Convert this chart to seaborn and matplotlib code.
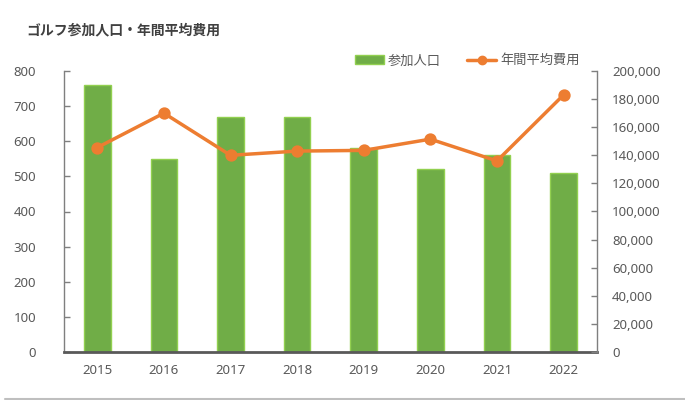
import matplotlib
matplotlib.use("Agg")
import matplotlib.pyplot as plt
import seaborn as sns
import pandas as pd
from matplotlib.patches import Patch
from matplotlib.lines import Line2D
from matplotlib.ticker import FuncFormatter, MultipleLocator

years = ["2015", "2016", "2017", "2018", "2019", "2020", "2021", "2022"]
participants = [760, 550, 670, 670, 580, 520, 560, 510]
avg_cost = [145500, 170000, 140000, 143000, 143500, 151500, 136000, 183000]

title = "ゴルフ参加人口・年間平均費用"
bar_label = "参加人口"
line_label = "年間平均費用"

sns.set_theme(style="white")
plt.rcParams['font.family'] = ['Noto Sans CJK JP', 'DejaVu Sans']

df = pd.DataFrame({"year": years, "participants": participants, "cost": avg_cost})

GREEN = "#70AD47"
GREEN_EDGE = "#92D050"
ORANGE = "#ED7D31"
TXT = "#595959"

fig = plt.figure(figsize=(6.85, 4.0), dpi=100)
ax = fig.add_axes([0.0934, 0.12, 0.778, 0.7025])

sns.barplot(data=df, x="year", y="participants", color=GREEN, width=0.4,
            edgecolor=GREEN_EDGE, linewidth=1.0, saturation=1, ax=ax)
ax.set_ylim(0, 800)
ax.yaxis.set_major_locator(MultipleLocator(100))
ax.set_xlim(-0.5, 7.5)

ax2 = ax.twinx()
sns.pointplot(data=df, x="year", y="cost", color=ORANGE, markers="o",
              markersize=7, linewidth=2.5, ax=ax2)
ax2.set_ylim(0, 200000)
ax2.yaxis.set_major_locator(MultipleLocator(20000))
ax2.yaxis.set_major_formatter(FuncFormatter(lambda v, p: f"{int(v):,}"))
ax2.set_xlim(-0.5, 7.5)

for a in (ax, ax2):
    a.set_xlabel("")
    a.set_ylabel("")
    for s in a.spines.values():
        s.set_visible(False)
    a.grid(False)

ax.spines['left'].set_visible(True)
ax.spines['left'].set_color("#7F7F7F")
ax.spines['left'].set_linewidth(1.0)
ax.spines['bottom'].set_visible(True)
ax.spines['bottom'].set_color("#595959")
ax.spines['bottom'].set_linewidth(2.0)
ax2.spines['right'].set_visible(True)
ax2.spines['right'].set_color("#7F7F7F")
ax2.spines['right'].set_linewidth(1.0)

ax.tick_params(axis='y', direction='in', length=4, width=1, color="#7F7F7F",
               labelsize=9.5, labelcolor=TXT, pad=20, left=True)
ax.tick_params(axis='x', length=0, labelsize=9.5, labelcolor=TXT, pad=9)
ax2.tick_params(axis='y', direction='in', length=4, width=1, color="#7F7F7F",
                labelsize=9.5, labelcolor=TXT, pad=11, right=True)
for lbl in ax.get_yticklabels() + ax2.get_yticklabels() + ax.get_xticklabels():
    lbl.set_fontfamily(['Noto Sans'])

fig.text(0.038, 0.925, title, fontsize=10, fontweight='bold', color="#404040",
         ha='left', va='center')

handles = [Patch(facecolor=GREEN, edgecolor=GREEN_EDGE, label=bar_label),
           Line2D([0], [0], color=ORANGE, lw=2.5, marker='o', markersize=6, label=line_label)]
fig.legend(handles=handles, loc='center', bbox_to_anchor=(0.682, 0.848), ncol=2,
           frameon=False, fontsize=9.5, handlelength=2.2, handletextpad=0.3,
           columnspacing=2.0, labelcolor=TXT)

fig.add_artist(Line2D([0.008, 1.0], [0.003, 0.003], color="#BFBFBF", lw=1.5,
                      transform=fig.transFigure))

fig.savefig("out.png", dpi=100)
